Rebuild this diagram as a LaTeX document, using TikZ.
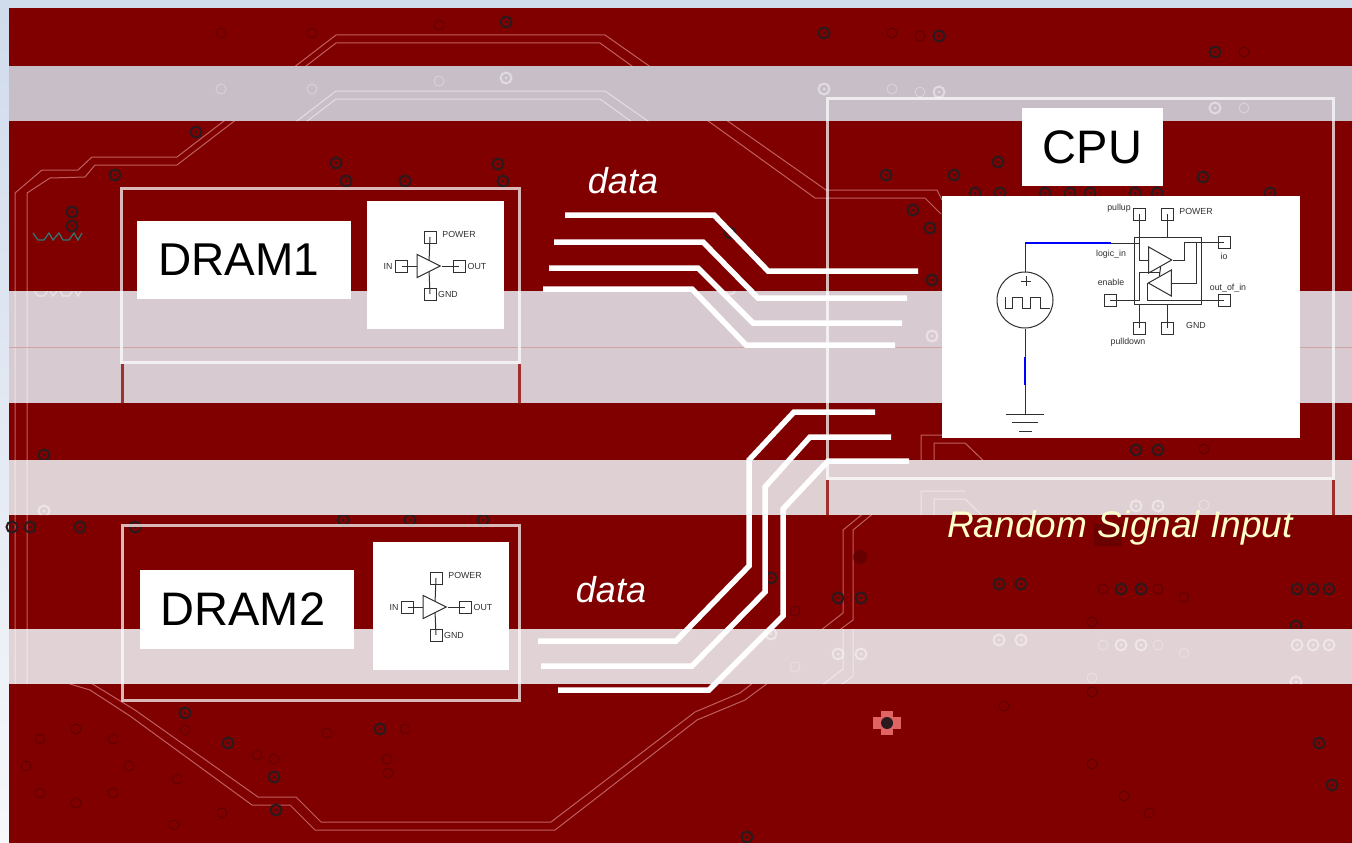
\documentclass[tikz,border=0pt]{standalone}
\usepackage{fontspec}
\setmainfont{Liberation Sans}
\usetikzlibrary{
  positioning,
  shapes.geometric
}
\definecolor{brdRed}{HTML}{800000}
\definecolor{brdTrace}{HTML}{BE6060}
\definecolor{brdVia}{HTML}{2A1A1E}
\definecolor{brdRing}{HTML}{5C0000}
\definecolor{brdStub}{HTML}{A03030}
\definecolor{brdSilk}{HTML}{2E7878}
\definecolor{brdPink}{HTML}{E06464}
\definecolor{bandA}{HTML}{C8BEC8}
\definecolor{bandB}{HTML}{D7CAD0}
\definecolor{bandC}{HTML}{DFD0D3}
\definecolor{bandD}{HTML}{E1D2D5}
\definecolor{bandLine}{HTML}{D0A4A4}
\definecolor{slideBlue}{HTML}{D0DBEC}
\definecolor{slideFade}{HTML}{F6F8FA}
\definecolor{schGrey}{HTML}{303030}
\definecolor{schBlue}{HTML}{0000FF}
\definecolor{sigYellow}{HTML}{FFFFCC}

% copper layer: #1 trace, #2 via, #3 faint via
\newcommand{\boardlayer}[3]{
 \draw[#1, line width=1pt] (15,193) -- (42,170) -- (78,170) -- (92,157) -- (177,157) -- (336,35)
   -- (605,35) -- (826,190) -- (937,190) -- (942,200);
 \draw[#1, line width=1pt] (27,193) -- (50,178) -- (85,177) -- (95,165) -- (177,165) -- (336,43)
   -- (600,43) -- (815,198) -- (925,198) -- (941,214);
 \draw[#1, line width=1pt] (15,193) -- (15,640) -- (60,676) -- (86,680) -- (135,710) -- (258,797)
   -- (296,797) -- (321,822) -- (551,822) -- (695,712) -- (740,693) -- (843,613) -- (843,530)
   -- (865,512) -- (921,478) -- (921,435) -- (965,435);
 \draw[#1, line width=1pt] (27,193) -- (27,640) -- (70,684) -- (90,690) -- (130,716) -- (252,805)
   -- (290,805) -- (315,830) -- (555,830) -- (697,720) -- (745,700) -- (853,620) -- (853,530)
   -- (875,512) -- (934,478) -- (934,443) -- (965,443) -- (993,470);
 \foreach \vx/\vy in {506/22,824/33,939/36,1215/52,196/132,115/175,336/163,346/181,405/181,
   498/164,503/181,72/212,72/226,730/233,932/280,886/175,954/175,998/162,1203/177,1270/193,
   913/210,930/228,975/193,1000/193,1045/193,1070/193,1090/193,1135/193,1157/193,44/455,
   12/527,30/527,80/527,135/527,343/520,410/520,483/520,185/713,228/743,380/729,274/777,276/810,
   747/837,1136/450,1158/450,999/584,1021/584,838/598,861/598,1121/589,1141/589,1297/589,
   1313/589,1329/589,1296/626,1319/743,1332/785,771/578}
  {\draw[#2, line width=2pt] (\vx,\vy) circle[radius=5.5];
   \fill[#2] (\vx,\vy) circle[radius=1.5];}
 \foreach \vx/\vy in {221/33,312/33,439/25,892/33,920/36,1244/52,185/730,405/729,76/729,40/739,
   113/739,26/766,129/766,40/793,113/793,76/803,177/779,222/813,174/825,257/755,327/733,274/759,
   387/759,388/773,1204/449,1092/622,1103/589,1158/589,1184/597,1092/692,1004/706,1092/764,
   1124/796,1149/813,795/611}
  \draw[#3, line width=0.8pt] (\vx,\vy) circle[radius=5];
}

\begin{document}
\begin{tikzpicture}[
  x=1pt, y=-1pt,
  boxnode/.style={rectangle, fill=white, inner sep=0pt},
  bigtext/.style={font=\fontsize{46}{50}\selectfont},
  datatext/.style={font=\fontsize{36}{40}\selectfont\itshape, text=white},
  sigtext/.style={font=\fontsize{37}{40}\selectfont\itshape, text=sigYellow},
  pinlabel/.style={font=\fontsize{8.8}{10}\selectfont, text=schGrey, inner sep=0pt},
  wire/.style={draw=schGrey, line width=1pt},
  bluewire/.style={draw=schBlue, line width=1.3pt},
  pad/.style={rectangle, draw=schGrey, line width=1pt, minimum size=12pt, inner sep=0pt},
  amp/.style={isosceles triangle, isosceles triangle stretches, draw=schGrey, line width=1pt,
    inner sep=0pt},
  bus/.style={draw=white, line width=5.5pt, miter limit=4},
  rim/.style={draw=white, draw opacity=0.72, line width=3pt},
  stub/.style={draw=brdStub, line width=3pt},
  ampchip/.pic={
    \node[amp, minimum width=23pt, minimum height=23pt, anchor=apex] (-amp) at (11.5,0) {};
    \node[pad] (-pw) at (0,-29) {};
    \node[pad] (-gn) at (0,28) {};
    \node[pad] (-in) at (-28.5,0) {};
    \node[pad] (-ou) at (29,0) {};
    \draw[wire] (-pw.center) -- (-amp.left side);
    \draw[wire] (-gn.center) -- (-amp.right side);
    \draw[wire] (-in.center) -- (-amp.lower side);
    \draw[wire] (-amp.apex) -- (-ou.center);
    \node[pinlabel] (-lpw) at (29,-32) {POWER};
    \node[pinlabel] (-lin) at (-42,0) {IN};
    \node[pinlabel] (-lou) at (47,0) {OUT};
    \node[pinlabel] (-lgn) at (18,28) {GND};
  }
]
 \useasboundingbox (0,0) rectangle (1352,843);

 % Slide and board
 \fill[slideBlue] (0,0) rectangle (1352,8);
 \shade[top color=slideBlue, bottom color=slideFade] (0,8) rectangle (9,843);
 \fill[brdRed] (9,8) rectangle (1352,843);
 \boardlayer{brdTrace}{brdVia}{brdRing}
 \draw[brdSilk, line width=1.2pt] (33,233) -- (38,240) -- (44,240) -- (49,233) -- (53,240)
   -- (59,233) -- (63,240) -- (69,240) -- (74,233) -- (78,240) -- (82,233);
 \fill[brdRing, opacity=0.6] (1094,524) rectangle (1122,546);
 \fill[brdRing, opacity=0.7] (860,557) circle[radius=7];
 \fill[brdPink] (881,711) rectangle (893,735);
 \fill[brdPink] (873,717) rectangle (901,729);
 \fill[brdVia] (887,723) circle[radius=6];

 % Light bands
 \fill[bandA] (9,66) rectangle (1352,121);
 \fill[bandB] (9,291) rectangle (1352,403);
 \fill[bandC] (9,460) rectangle (1352,515);
 \fill[bandD] (9,629) rectangle (1352,684);
 \begin{scope}
  \clip (9,66) rectangle (1352,121) (9,291) rectangle (1352,403)
    (9,460) rectangle (1352,515) (9,629) rectangle (1352,684);
  \begin{scope}[shift={(0,56)}]
   \boardlayer{white, opacity=0.5}{white, opacity=0.45}{white, opacity=0.35}
   \draw[white, opacity=0.5, line width=1.2pt] (33,233) -- (38,240) -- (44,240) -- (49,233) -- (53,240)
     -- (59,233) -- (63,240) -- (69,240) -- (74,233) -- (78,240) -- (82,233);
  \end{scope}
 \end{scope}
 \draw[bandLine, line width=0.8pt] (9,347) -- (1352,347);

 % Chip outlines on the board
 \draw[rim] (121,188) rectangle (519,362);
 \draw[rim] (122,525) rectangle (519,700);
 \draw[rim] (827,98) rectangle (1333,478);
 \draw[stub] (122,364) -- (122,403);
 \draw[stub] (519,364) -- (519,403);
 \draw[stub] (827,480) -- (827,515);
 \draw[stub] (1333,480) -- (1333,515);

 % Upper data lines
 \coordinate (d1a) at (565,215); \coordinate (d1b) at (918,271);
 \coordinate (d2a) at (554,242); \coordinate (d2b) at (907,298);
 \coordinate (d3a) at (549,268); \coordinate (d3b) at (902,323);
 \coordinate (d4a) at (543,289); \coordinate (d4b) at (895,345);
 \draw[bus] (d1a) -- (714,215) -- (768,271) -- (d1b);
 \draw[bus] (d2a) -- (703,242) -- (758,298) -- (d2b);
 \draw[bus] (d3a) -- (698,268) -- (753,323) -- (d3b);
 \draw[bus] (d4a) -- (692,289) -- (746,345) -- (d4b);

 % Lower data lines
 \coordinate (e1a) at (538,641); \coordinate (e1b) at (875,412);
 \coordinate (e2a) at (541,666); \coordinate (e2b) at (891,437);
 \coordinate (e3a) at (558,690); \coordinate (e3b) at (909,461);
 \draw[bus] (e1a) -- (676,641) -- (749,566) -- (749,460) -- (794,412) -- (e1b);
 \draw[bus] (e2a) -- (692,666) -- (765,592) -- (765,487) -- (810,437) -- (e2b);
 \draw[bus] (e3a) -- (709,690) -- (783,616) -- (783,509) -- (828,461) -- (e3b);

 % White boxes
 \node[boxnode, bigtext, minimum width=214pt, minimum height=78pt] (dram1) at (244,260) {DRAM1\kern10pt};
 \node[boxnode, minimum width=137pt, minimum height=128pt] (chip1) at (435.5,265) {};
 \node[boxnode, font=\fontsize{47}{50}\selectfont, minimum width=214pt, minimum height=79pt] (dram2) at (247,609.5) {DRAM2\kern8pt};
 \node[boxnode, minimum width=136pt, minimum height=128pt] (chip2) at (441,606) {};
 \node[boxnode, font=\fontsize{47}{50}\selectfont, minimum width=141pt, minimum height=78pt] (cpu) at (1092.5,147) {CPU};
 \node[boxnode, minimum width=358pt, minimum height=242pt] (cpuchip) at (1121,317) {};

 % Texts on the board
 \node[datatext] (data1) at (623,181) {data};
 \node[datatext] (data2) at (611,590) {data};
 \node[sigtext] (signal) at (1120,528) {Random Signal Input};

 % Buffers of the DRAM chips
 \pic (a1) at (430,266) {ampchip};
 \pic (a2) at (436,607) {ampchip};

 % Schematic in the CPU box
 \node[rectangle, draw=schGrey, line width=1pt, minimum width=67pt, minimum height=67pt,
   inner sep=0pt] (iobox) at (1167.5,270.5) {};
 \node[amp, minimum width=26pt, minimum height=23pt, anchor=apex] (tu) at (1173,260) {};
 \node[amp, shape border rotate=180, minimum width=26pt, minimum height=23pt, anchor=apex] (tl) at (1147,283) {};
 \node[pad] (pu) at (1139,214) {};
 \node[pad] (pw) at (1167,214) {};
 \node[pad] (io) at (1224,242) {};
 \node[pad] (ou) at (1224,300) {};
 \node[pad] (en) at (1110,300) {};
 \node[pad] (pd) at (1139,328) {};
 \node[pad] (gn) at (1167,328) {};
 \node[circle, draw=schGrey, line width=1pt, minimum size=56pt, inner sep=0pt] (src) at (1025,300) {};

 \coordinate (ja) at (1025,243);
 \coordinate (jb) at (1111,243);
 \coordinate (jc) at (1139,243);
 \coordinate (jd) at (1184,242);
 \coordinate (je) at (1196,242);
 \coordinate (jg) at (1139,272);
 \coordinate (jh) at (1025,357);
 \coordinate (ji) at (1025,385);
 \coordinate (gnd) at (1025,414);

 \draw[wire] (src.north) -- (ja);
 \draw[wire] (jb) -- (jc) |- (tu.lower side);
 \draw[wire] (pu.center) -- (jc);
 \draw[wire] (pw.center) -- (pw.center |- iobox.north);
 \draw[wire] (pd.center) -- (pd.center |- iobox.south);
 \draw[wire] (gn.center) -- (gn.center |- iobox.south);
 \draw[wire] (tu.apex) -| (jd) -- (io.center);
 \draw[wire] (tl.lower side) -| (je);
 \draw[wire] (tu.right side) -- (tl.right side);
 \draw[wire] (en.center) -| (jg) -| (tl.right side);
 \draw[wire] (tl.apex) |- (ou.center);
 \draw[wire] (src.south) -- (jh);
 \draw[wire] (ji) -- (gnd);
 \draw[bluewire] (ja) -- (jb);
 \draw[bluewire] (jh) -- (ji);

 % Ground and pulse symbols
 \draw[wire] (1006,414) -- (1044,414);
 \draw[wire] (1012,422) -- (1038,422);
 \draw[wire] (1019,431) -- (1032,431);
 \draw[wire] (1021,281) -- (1031,281) (1026,276) -- (1026,286);
 \draw[wire] (1005,297) -- (1005,308) -- (1012,308) -- (1012,297) -- (1022,297) -- (1022,308)
   -- (1030,308) -- (1030,297) -- (1040,297) -- (1040,308) -- (1050,308);

 \node[pinlabel] (lpu) at (1119,208) {pullup};
 \node[pinlabel] (lpw) at (1196,211) {POWER};
 \node[pinlabel] (lli) at (1111,254) {logic\_in};
 \node[pinlabel] (len) at (1111,282) {enable};
 \node[pinlabel] (lio) at (1224,256) {io};
 \node[pinlabel] (lou) at (1228,288) {out\_of\_in};
 \node[pinlabel] (lgn) at (1196,325) {GND};
 \node[pinlabel] (lpd) at (1128,342) {pulldown};
\end{tikzpicture}
\end{document}
